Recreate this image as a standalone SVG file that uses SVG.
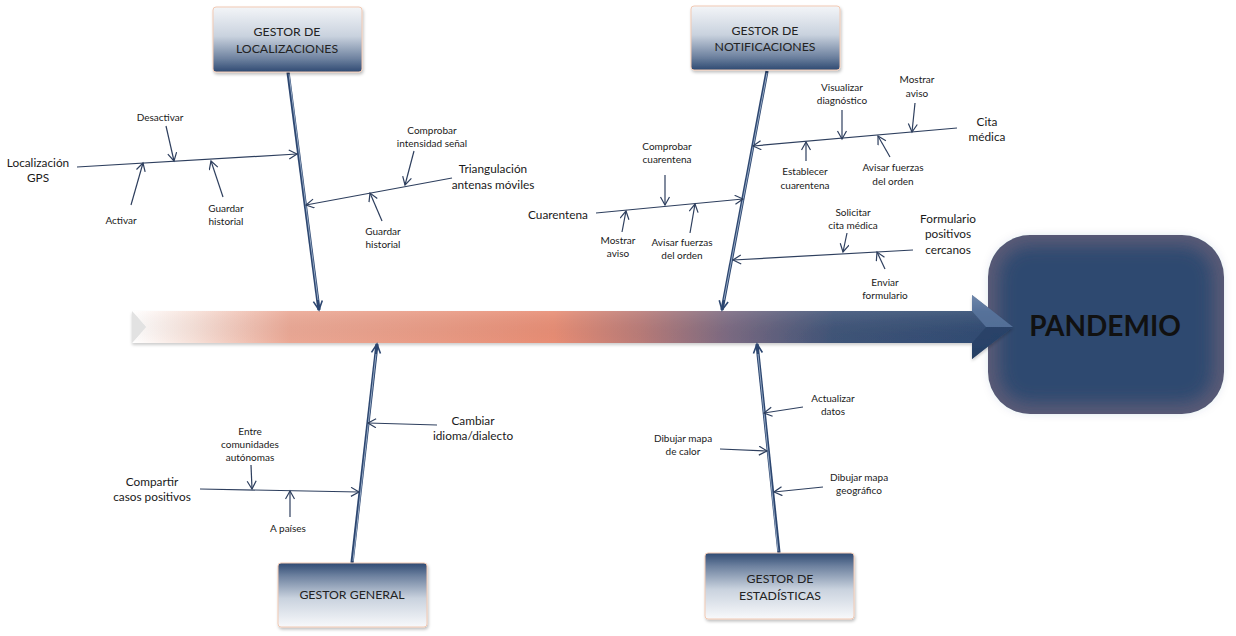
<svg xmlns="http://www.w3.org/2000/svg" width="1236" height="636" viewBox="0 0 1236 636">
<style>
.t{font-family:Lato,"Liberation Sans",sans-serif;fill:#1a1a1a;text-anchor:middle}
.m{font-size:11.8px}
.s{font-size:10px}
.b{font-size:12.3px;fill:#222}
.br{fill:none;stroke:#2e3f5e;stroke-width:1.2;marker-end:url(#ah)}
.bone{fill:none;stroke:#2c4670;stroke-width:3.2}
.boneh{fill:none;stroke:#9fb2cc;stroke-width:0.9}
</style>
<defs>
<marker id="ah" markerWidth="12" markerHeight="12" refX="9" refY="5" orient="auto" markerUnits="userSpaceOnUse">
<path d="M1,0.5 L9,5 L1,9.5" fill="none" stroke="#2e3f5e" stroke-width="1.2"/>
</marker>
<marker id="bh" markerWidth="14" markerHeight="14" refX="10" refY="6" orient="auto" markerUnits="userSpaceOnUse">
<path d="M1,1.5 L10,6 L1,10.5" fill="none" stroke="#2c4670" stroke-width="1.6"/>
</marker>
<linearGradient id="gTop" x1="0" y1="0" x2="0" y2="1">
<stop offset="0" stop-color="#f3f5f8"/>
<stop offset="0.45" stop-color="#c9d2de"/>
<stop offset="0.8" stop-color="#6d819f"/>
<stop offset="1" stop-color="#2f4a72"/>
</linearGradient>
<linearGradient id="gBot" x1="0" y1="1" x2="0" y2="0">
<stop offset="0" stop-color="#f8f9fb"/>
<stop offset="0.45" stop-color="#c9d2de"/>
<stop offset="0.8" stop-color="#6d819f"/>
<stop offset="1" stop-color="#2f4a72"/>
</linearGradient>
<linearGradient id="gSpine" gradientUnits="userSpaceOnUse" x1="132" y1="0" x2="1010" y2="0">
<stop offset="0" stop-color="#ffffff"/>
<stop offset="0.07" stop-color="#f7e1d9"/>
<stop offset="0.18" stop-color="#eba895"/>
<stop offset="0.35" stop-color="#e99a84"/>
<stop offset="0.48" stop-color="#e88d74"/>
<stop offset="0.58" stop-color="#b97b78"/>
<stop offset="0.68" stop-color="#7b6a82"/>
<stop offset="0.8" stop-color="#3f5478"/>
<stop offset="1" stop-color="#2e4a72"/>
</linearGradient>
<linearGradient id="gBevel" x1="0" y1="0" x2="0" y2="1">
<stop offset="0" stop-color="#ffffff" stop-opacity="0.55"/>
<stop offset="0.25" stop-color="#ffffff" stop-opacity="0.1"/>
<stop offset="0.75" stop-color="#000000" stop-opacity="0"/>
<stop offset="1" stop-color="#000000" stop-opacity="0.15"/>
</linearGradient>
<filter id="blur" x="-20%" y="-20%" width="140%" height="140%"><feGaussianBlur stdDeviation="8"/></filter>
<filter id="sh" x="-10%" y="-10%" width="130%" height="140%"><feDropShadow dx="1" dy="2" stdDeviation="1.5" flood-color="#000" flood-opacity="0.25"/></filter>
<filter id="sh2" x="-5%" y="-30%" width="110%" height="180%"><feDropShadow dx="0" dy="2" stdDeviation="1.5" flood-color="#000" flood-opacity="0.2"/></filter>
</defs>
<rect width="1236" height="636" fill="#ffffff"/>

<g id="pandemio">
<rect x="988" y="235" width="236" height="179" rx="42" fill="#595a76"/>
<rect x="999" y="246" width="214" height="157" rx="32" fill="#2d4a6f" filter="url(#blur)"/>
<text x="1105" y="336" font-family="Lato,'Liberation Sans',sans-serif" font-weight="bold" font-size="28" fill="#111" text-anchor="middle">PANDEMIO</text>
</g>

<g id="spine" filter="url(#sh2)">
<path d="M132,311 L972,311 L972,295 L1013,327 L972,359 L972,343 L132,343 L146,327 Z" fill="url(#gSpine)"/>
<path d="M132,311 L972,311 L972,295 L1013,327 L972,359 L972,343 L132,343 L146,327 Z" fill="url(#gBevel)"/>
<path d="M132,311 L146,327 L132,343 Z" fill="#e2e2e2"/>
<path d="M972,295 L1013,327 L986,327 L972,311 Z" fill="#5d7aa3" opacity="0.75"/>
<path d="M972,359 L1013,327 L986,327 L972,343 Z" fill="#243d63" opacity="0.6"/>
</g>

<g id="connectors">
<line class="bone" x1="288" y1="72" x2="319" y2="310" marker-end="url(#bh)"/>
<line class="boneh" x1="289" y1="74" x2="318" y2="300"/>
<line class="bone" x1="767" y1="71" x2="722" y2="310" marker-end="url(#bh)"/>
<line class="boneh" x1="767" y1="73" x2="724" y2="300"/>
<line class="bone" x1="352" y1="563" x2="377" y2="344" marker-end="url(#bh)"/>
<line class="boneh" x1="353" y1="561" x2="376" y2="354"/>
<line class="bone" x1="779" y1="553" x2="757" y2="344" marker-end="url(#bh)"/>
<line class="boneh" x1="778" y1="551" x2="758" y2="354"/>

<line class="br" x1="77" y1="167" x2="297" y2="154"/>
<line class="br" x1="166" y1="126" x2="174" y2="161"/>
<line class="br" x1="131" y1="205" x2="143" y2="163"/>
<line class="br" x1="223" y1="197" x2="211" y2="161"/>
<line class="br" x1="452" y1="178" x2="306" y2="205"/>
<line class="br" x1="414" y1="151" x2="405" y2="185"/>
<line class="br" x1="382" y1="221" x2="370" y2="193"/>

<line class="br" x1="957" y1="128" x2="753" y2="146"/>
<line class="br" x1="842" y1="110" x2="842" y2="139"/>
<line class="br" x1="915" y1="103" x2="912" y2="132"/>
<line class="br" x1="806" y1="161" x2="806" y2="142"/>
<line class="br" x1="890" y1="157" x2="878" y2="136"/>
<line class="br" x1="596" y1="213" x2="743" y2="199"/>
<line class="br" x1="665" y1="175" x2="665" y2="205"/>
<line class="br" x1="622" y1="232" x2="626" y2="211"/>
<line class="br" x1="690" y1="233" x2="695" y2="204"/>
<line class="br" x1="913" y1="250" x2="733" y2="260"/>
<line class="br" x1="847" y1="233" x2="843" y2="252"/>
<line class="br" x1="885" y1="269" x2="877" y2="252"/>

<line class="br" x1="200" y1="489" x2="359" y2="492"/>
<line class="br" x1="251" y1="465" x2="252" y2="489"/>
<line class="br" x1="290" y1="517" x2="290" y2="491"/>
<line class="br" x1="437" y1="425" x2="368" y2="423"/>

<line class="br" x1="803" y1="407" x2="764" y2="413"/>
<line class="br" x1="720" y1="449" x2="767" y2="451"/>
<line class="br" x1="823" y1="487" x2="774" y2="492"/>
</g>

<g id="gestor-localizaciones">
<rect x="213" y="7" width="149" height="65" rx="3" fill="url(#gTop)" stroke="#f1c9b3" stroke-width="1" filter="url(#sh)"/>
<text class="t b" x="287" y="36">GESTOR DE</text>
<text class="t b" x="287" y="53">LOCALIZACIONES</text>
</g>
<g id="gestor-notificaciones">
<rect x="691" y="6" width="149" height="64" rx="3" fill="url(#gTop)" stroke="#f1c9b3" stroke-width="1" filter="url(#sh)"/>
<text class="t b" x="765" y="35">GESTOR DE</text>
<text class="t b" x="765" y="51">NOTIFICACIONES</text>
</g>
<g id="gestor-general">
<rect x="278" y="563" width="149" height="64" rx="3" fill="url(#gBot)" stroke="#f1c9b3" stroke-width="1" filter="url(#sh)"/>
<text class="t b" x="352" y="599">GESTOR GENERAL</text>
</g>
<g id="gestor-estadisticas">
<rect x="705" y="553" width="149" height="66" rx="3" fill="url(#gBot)" stroke="#f1c9b3" stroke-width="1" filter="url(#sh)"/>
<text class="t b" x="780" y="583">GESTOR DE</text>
<text class="t b" x="780" y="600">ESTADÍSTICAS</text>
</g>

<g id="labels">
<text class="t m" x="38" y="167">Localización</text>
<text class="t m" x="38" y="182">GPS</text>
<text class="t s" x="160" y="120.5">Desactivar</text>
<text class="t s" x="121" y="223.5">Activar</text>
<text class="t s" x="226" y="211.5">Guardar</text>
<text class="t s" x="226" y="224.5">historial</text>
<text class="t m" x="493" y="173">Triangulación</text>
<text class="t m" x="493" y="189">antenas móviles</text>
<text class="t s" x="432" y="133.5">Comprobar</text>
<text class="t s" x="432" y="146.5">intensidad señal</text>
<text class="t s" x="383" y="234.5">Guardar</text>
<text class="t s" x="383" y="247.5">historial</text>

<text class="t m" x="987" y="126">Cita</text>
<text class="t m" x="987" y="141">médica</text>
<text class="t s" x="842" y="90.5">Visualizar</text>
<text class="t s" x="842" y="103.5">diagnóstico</text>
<text class="t s" x="917" y="82.5">Mostrar</text>
<text class="t s" x="917" y="96.5">aviso</text>
<text class="t s" x="805" y="174.5">Establecer</text>
<text class="t s" x="805" y="188.5">cuarentena</text>
<text class="t s" x="893" y="170.5">Avisar fuerzas</text>
<text class="t s" x="893" y="184.5">del orden</text>
<text class="t m" x="558" y="219">Cuarentena</text>
<text class="t s" x="667" y="149.5">Comprobar</text>
<text class="t s" x="667" y="162.5">cuarentena</text>
<text class="t s" x="618" y="243.5">Mostrar</text>
<text class="t s" x="618" y="256.5">aviso</text>
<text class="t s" x="682" y="245.5">Avisar fuerzas</text>
<text class="t s" x="682" y="258.5">del orden</text>
<text class="t m" x="948" y="223">Formulario</text>
<text class="t m" x="948" y="238">positivos</text>
<text class="t m" x="948" y="254">cercanos</text>
<text class="t s" x="853" y="215.5">Solicitar</text>
<text class="t s" x="853" y="228.5">cita médica</text>
<text class="t s" x="885" y="285.5">Enviar</text>
<text class="t s" x="885" y="298.5">formulario</text>

<text class="t m" x="152" y="486">Compartir</text>
<text class="t m" x="152" y="501">casos positivos</text>
<text class="t s" x="250" y="434.5">Entre</text>
<text class="t s" x="250" y="447.5">comunidades</text>
<text class="t s" x="250" y="460.5">autónomas</text>
<text class="t s" x="288" y="531.5">A países</text>
<text class="t m" x="473" y="425">Cambiar</text>
<text class="t m" x="473" y="440">idioma/dialecto</text>

<text class="t s" x="833" y="401.5">Actualizar</text>
<text class="t s" x="833" y="414.5">datos</text>
<text class="t s" x="683" y="441.5">Dibujar mapa</text>
<text class="t s" x="683" y="454.5">de calor</text>
<text class="t s" x="859" y="480.5">Dibujar mapa</text>
<text class="t s" x="859" y="493.5">geográfico</text>
</g>
</svg>
